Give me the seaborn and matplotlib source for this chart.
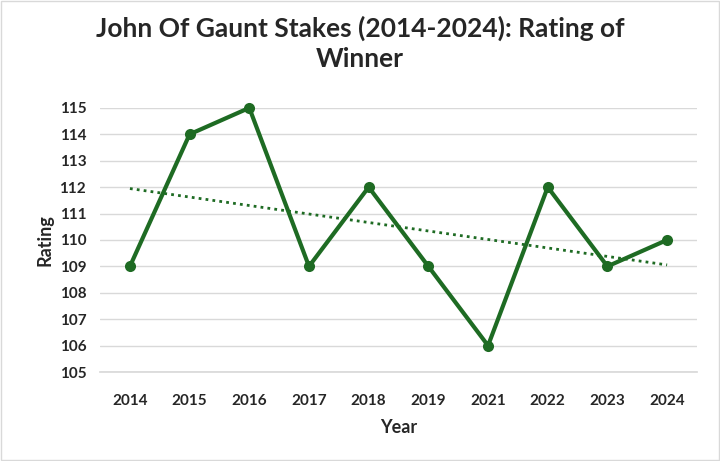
import matplotlib
matplotlib.use("Agg")
import matplotlib.pyplot as plt
import seaborn as sns
import numpy as np
import pandas as pd

years = ["2014","2015","2016","2017","2018","2019","2021","2022","2023","2024"]
ratings = [109,114,115,109,112,109,106,112,109,110]

sns.set_theme(style="whitegrid")
plt.rcParams['font.family'] = ['Lato', 'DejaVu Sans']

df = pd.DataFrame({"Year": years, "Rating": ratings, "pos": np.arange(len(years))})

fig = plt.figure(figsize=(7.2, 4.61), dpi=100)
ax = fig.add_axes([0.139, 0.193, 0.829, 0.573])
green = "#1e6b23"
sns.lineplot(data=df, x="pos", y="Rating", ax=ax, color=green, linewidth=3,
             marker="o", markersize=8, markeredgewidth=0, clip_on=False)
coef = np.polyfit(df["pos"], df["Rating"], 1)
xs = np.array([0, len(years) - 1])
ax.plot(xs, np.polyval(coef, xs), linestyle=(0, (1, 1.5)), color=green, linewidth=2)

ax.set_xlim(-0.5, len(years) - 0.5)
ax.set_ylim(105, 115)
ax.set_yticks(range(105, 116))
ax.set_xticks(df["pos"])
ax.set_xticklabels(years)
for lab in ax.get_xticklabels() + ax.get_yticklabels():
    lab.set_fontweight("bold"); lab.set_fontsize(11)
ax.tick_params(axis="x", pad=16, length=0)
ax.tick_params(axis="y", pad=10, length=0)
ax.set_xlabel("Year", fontsize=13, fontweight="bold", labelpad=8)
ax.set_ylabel("Rating", fontsize=13, fontweight="bold")
ax.grid(axis="x", visible=False)
ax.grid(axis="y", color="#d9d9d9", linewidth=1)
for s in ["top", "right", "left"]:
    ax.spines[s].set_visible(False)
ax.spines["bottom"].set_color("#d9d9d9")
fig.suptitle("John Of Gaunt Stakes (2014-2024): Rating of\nWinner", fontsize=19,
             fontweight="bold", y=0.965, linespacing=1.3)
fig.patches.append(plt.Rectangle((0.002, 0.002), 0.996, 0.996, transform=fig.transFigure,
                                 fill=False, edgecolor="#d9d9d9", linewidth=1))
fig.savefig("out.png", dpi=100)
